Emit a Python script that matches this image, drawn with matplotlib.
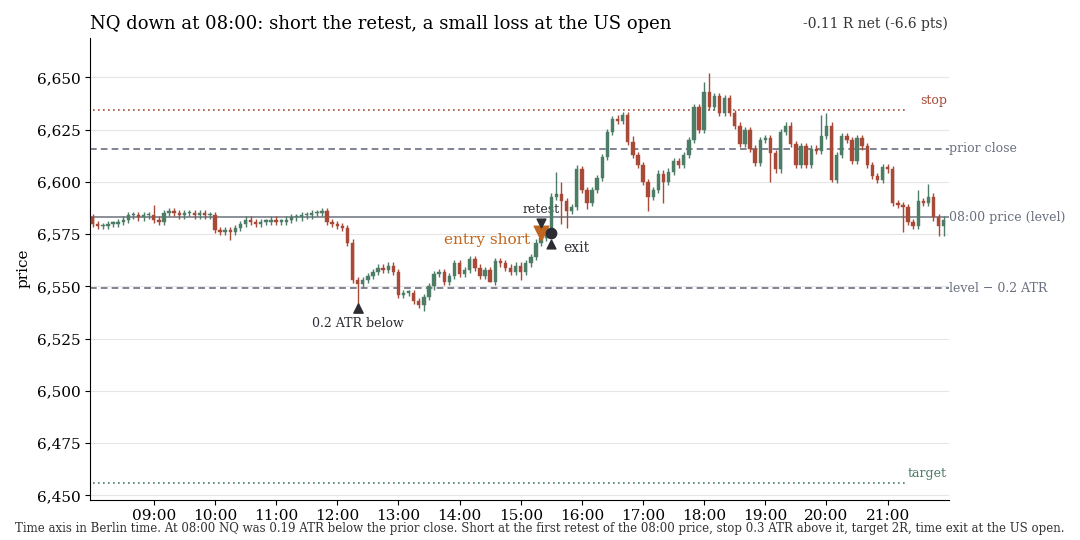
import matplotlib
matplotlib.use("Agg")
import matplotlib.pyplot as plt
from matplotlib.ticker import FuncFormatter, FixedLocator

plt.rcParams['font.family'] = ['DejaVu Serif']

open0 = 6583
closes = [
    6580, 6579, 6579, 6580, 6580, 6581, 6582, 6584, 6584, 6583, 6584, 6584,
    6582, 6581, 6585, 6586, 6585, 6584, 6585, 6585, 6584, 6585, 6584, 6584,
    6577, 6576, 6577, 6576, 6578, 6580, 6582, 6581, 6580, 6581, 6581, 6582,
    6581, 6581, 6582, 6583, 6583, 6584, 6584, 6585, 6585, 6586, 6581, 6580,
    6579, 6578, 6571, 6553, 6551, 6553, 6555, 6557, 6559, 6558, 6560, 6557,
    6546, 6547, 6547, 6543, 6541, 6545, 6550, 6556, 6557, 6552, 6555, 6561,
    6556, 6558, 6563, 6559, 6555, 6558, 6552, 6562, 6561, 6559, 6557, 6560,
    6557, 6561, 6564, 6571, 6573, 6576, 6593, 6594, 6591, 6586, 6588, 6606,
    6596, 6590, 6596, 6602, 6612, 6624, 6630, 6629, 6632, 6619, 6613, 6608,
    6600, 6593, 6596, 6604, 6600, 6605, 6610, 6608, 6613, 6620, 6636, 6625,
    6643, 6636, 6641, 6633, 6640, 6633, 6627, 6618, 6625, 6616, 6609, 6620,
    6621, 6614, 6606, 6624, 6627, 6618, 6608, 6617, 6608, 6616, 6615, 6622,
    6627, 6601, 6613, 6622, 6620, 6610, 6621, 6617, 6608, 6603, 6601, 6607,
    6606, 6590, 6589, 6588, 6581, 6579, 6591, 6590, 6593, 6583, 6579, 6582,
]
spike_high = {"09:00": 6589, "15:35": 6605, "15:40": 6600, "16:35": 6632,
              "18:00": 6648, "18:05": 6652, "19:55": 6632, "20:00": 6633,
              "21:30": 6596, "21:40": 6599, "15:55": 6608, "16:50": 6622}
spike_low = {"10:15": 6572, "12:20": 6541, "13:25": 6538, "14:30": 6552,
             "15:40": 6580, "15:45": 6578, "16:05": 6587, "17:05": 6586,
             "17:20": 6590, "19:05": 6600, "20:05": 6600, "21:15": 6576,
             "21:50": 6574, "21:55": 6574, "15:00": 6553}

level = 6583.0
prior_close = 6616.0
level_minus = 6549.0
stop = 6634.5
target = 6456.0
entry_time, entry_price = "15:20", 6575.5
exit_time, exit_price = "15:30", 6575.5
atr_time, atr_price = "12:20", 6539.5
hour_ticks = list(range(9, 22))

def t2h(s):
    h, m = s.split(":")
    return int(h) + int(m) / 60

n = len(closes)
times = [8 + i * 5 / 60 for i in range(n)]
labels = ["%02d:%02d" % (8 + (i * 5) // 60, (i * 5) % 60) for i in range(n)]
opens = [open0] + closes[:-1]

GREEN = "#4d7d66"
RED = "#a94a38"

fig = plt.figure(figsize=(10.8, 5.4), dpi=100)
ax = fig.add_axes([0.0835, 0.075, 0.795, 0.855])
w = 0.055
for t, lab, o, c in zip(times, labels, opens, closes):
    col = GREEN if c >= o else RED
    hi = spike_high.get(lab, max(o, c) + 1.5)
    lo = spike_low.get(lab, min(o, c) - 1.5)
    ax.vlines(t, lo, hi, color=col, lw=1.0, zorder=3)
    body = max(abs(c - o), 0.6)
    ax.bar(t, body, bottom=min(o, c), width=w, color=col, edgecolor=col, lw=0.3, zorder=4)

ax.axhline(level, color="#8a8f99", lw=1.4, zorder=2)
ax.axhline(prior_close, color="#6b7080", lw=1.2, ls=(0, (4, 2.5)), zorder=2)
ax.axhline(level_minus, color="#6b7080", lw=1.2, ls=(0, (4, 2.5)), zorder=2)
ax.plot([8, 21.3], [stop, stop], color=RED, lw=1.2, ls=(0, (1, 2)), zorder=2)
ax.plot([8, 21.3], [target, target], color=GREEN, lw=1.2, ls=(0, (1, 2)), zorder=2)

tr = ax.get_yaxis_transform()
ax.text(1.0, prior_close, "prior close", transform=tr, va="center", ha="left", color="#6b7080", fontsize=9)
ax.text(1.0, level, "08:00 price (level)", transform=tr, va="center", ha="left", color="#6b7080", fontsize=9)
ax.text(1.0, level_minus, "level \u2212 0.2 ATR", transform=tr, va="center", ha="left", color="#6b7080", fontsize=9)
ax.text(0.998, stop + 1.5, "stop", transform=tr, va="bottom", ha="right", color=RED, fontsize=9)
ax.text(0.998, target + 1.5, "target", transform=tr, va="bottom", ha="right", color=GREEN, fontsize=9)

ex, xx, ax_t = t2h(entry_time), t2h(exit_time), t2h(atr_time)
ax.scatter([ex], [entry_price], marker="v", s=110, color="#c0661f", zorder=6)
ax.scatter([ex], [entry_price + 5], marker="v", s=40, color="#2b2d33", zorder=6)
ax.text(ex, entry_price + 8, "retest", ha="center", va="bottom", fontsize=9, color="#2b2d33")
ax.text(ex - 0.18, entry_price - 3.5, "entry short", ha="right", va="center", fontsize=11, color="#c0661f")
ax.scatter([xx], [exit_price], marker="o", s=55, color="#2b2d33", zorder=6)
ax.scatter([xx], [exit_price - 5], marker="^", s=40, color="#2b2d33", zorder=6)
ax.text(xx + 0.2, exit_price - 7, "exit", ha="left", va="center", fontsize=10, color="#2b2d33")
ax.scatter([ax_t], [atr_price], marker="^", s=45, color="#2b2d33", zorder=6)
ax.text(ax_t, atr_price - 4, "0.2 ATR below", ha="center", va="top", fontsize=9, color="#2b2d33")

ax.set_xlim(7.96, 22.0)
ax.set_ylim(6448, 6669)
ax.xaxis.set_major_locator(FixedLocator(hour_ticks))
ax.xaxis.set_major_formatter(FuncFormatter(lambda v, p: "%02d:00" % int(round(v))))
ax.yaxis.set_major_formatter(FuncFormatter(lambda v, p: "{:,.0f}".format(v)))
ax.set_yticks([6450, 6475, 6500, 6525, 6550, 6575, 6600, 6625, 6650])
ax.grid(axis="y", color="#e6e6e6", lw=0.8, zorder=0)
ax.set_axisbelow(True)
for s in ["top", "right"]:
    ax.spines[s].set_visible(False)
ax.tick_params(labelsize=11)
ax.set_ylabel("price", fontsize=11)

fig.text(0.083, 0.955, "NQ down at 08:00: short the retest, a small loss at the US open", fontsize=13, ha="left", va="center")
fig.text(0.878, 0.955, "-0.11 R net (-6.6 pts)", fontsize=10, ha="right", va="center", color="#333333")
fig.text(0.5, 0.022, "Time axis in Berlin time. At 08:00 NQ was 0.19 ATR below the prior close. Short at the first retest of the 08:00 price, stop 0.3 ATR above it, target 2R, time exit at the US open.",
         fontsize=8.5, ha="center", va="center", color="#333333")

fig.savefig("out.png", dpi=100)
